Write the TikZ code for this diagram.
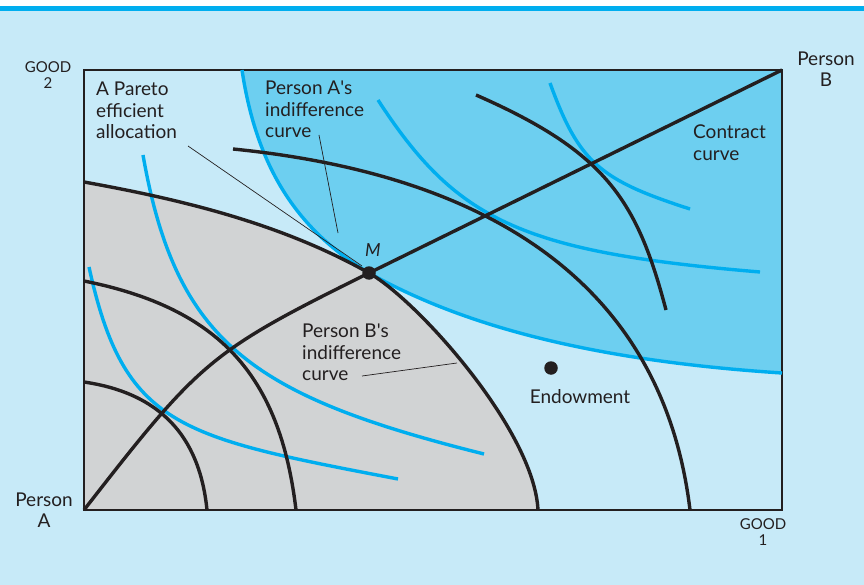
\documentclass[tikz,border=0pt]{standalone}
\usepackage{fontspec}
\setmainfont{Lato}
\definecolor{bgblue}{HTML}{C7EAF8}
\definecolor{regblue}{HTML}{6DCFF0}
\definecolor{cyanline}{HTML}{00AEEF}
\definecolor{grayreg}{HTML}{D1D3D4}
\definecolor{ink}{HTML}{231F20}
\tikzset{
  blackcurve/.style={draw=ink, line width=3.4pt},
  bluecurve/.style={draw=cyanline, line width=3.4pt},
  leader/.style={draw=ink, line width=0.7pt},
  boxline/.style={draw=ink, line width=2.7pt},
  lbl/.style={text=ink, font=\fontsize{19}{21.4}\selectfont, align=left, inner sep=0pt},
  axlbl/.style={text=ink, font=\fontsize{19}{21}\selectfont, align=center, inner sep=0pt},
  goodlbl/.style={text=ink, font=\fontsize{15}{16.5}\selectfont, align=center, inner sep=0pt},
  dotmark/.style={circle, fill=ink, inner sep=0pt, minimum size=13.5pt},
}
\begin{document}
\begin{tikzpicture}[x=1pt, y=-1pt]
\useasboundingbox (0,0) rectangle (864,585);
\fill[white] (0,0) rectangle (864,585);
\fill[bgblue] (0,11) rectangle (864,585);
\fill[cyanline] (0,6) rectangle (864,11);

\coordinate (O) at (84,510);
\coordinate (B) at (782,70);
\coordinate (TL) at (84,70);
\coordinate (BR) at (782,510);
\coordinate (M) at (369,273);
\coordinate (E) at (551,368);

% shaded regions
\fill[grayreg] (O) -- (84,182) .. controls (184,200) and (282,224) .. (M)
   .. controls (417,300) and (534,430) .. (538,510) -- cycle;
\fill[regblue] (242,70) .. controls (257,170) and (299,231) .. (M)
   .. controls (456,322) and (582,360) .. (782,373) -- (B) -- cycle;

% box
\draw[boxline] (TL) rectangle (BR);

% Person B's indifference curves (blue)
\draw[bluecurve] (242,70) .. controls (257,170) and (299,231) .. (M)
   .. controls (456,322) and (582,360) .. (782,373);
\draw[bluecurve] (378,100) .. controls (456,220) and (520,252) .. (760,272);
\draw[bluecurve] (550,83) .. controls (579,163) and (600,180) .. (690,209);
\draw[bluecurve] (143,155) .. controls (176,343) and (252,396) .. (484,454);
\draw[bluecurve] (89,267) .. controls (124,427) and (178,437) .. (398,479);

% Person A's indifference curves (black)
\draw[blackcurve] (84,382) .. controls (159,393) and (199.5,435) .. (207,510);
\draw[blackcurve] (84,281) .. controls (219,308) and (280,375) .. (296,510);
\draw[blackcurve] (84,182) .. controls (184,200) and (282,224) .. (M)
   .. controls (417,300) and (534,430) .. (538,510);
\draw[blackcurve] (233,149) .. controls (498,175.5) and (663.6,290) .. (690,510);
\draw[blackcurve] (476,95) .. controls (606,152) and (637,200) .. (666,310);

% contract curve
\draw[blackcurve] (O) .. controls (200,361) and (209,352) .. (M) -- (B);

% dots
\node[dotmark] (Mdot) at (M) {};
\node[dotmark] (Edot) at (E) {};

% labels
\node[text=ink, font=\fontsize{18}{20}\selectfont\itshape, inner sep=0pt] (Mlbl) at (373,250) {M};
\node[lbl, anchor=north] (Endow) at (580,389) {Endowment};
\node[lbl, anchor=north west] (Pareto) at (96,82) {A Pareto\\efficient\\allocation};
\node[lbl, anchor=north west] (Aind) at (265,81) {Person A\textquotesingle s\\indifference\\curve};
\node[lbl, anchor=north west] (Contract) at (693,125) {Contract\\curve};
\node[lbl, anchor=north west] (Bind) at (302,324) {Person B\textquotesingle s\\indifference\\curve};
\node[axlbl, anchor=north] (PA) at (44,493) {Person\\A};
\node[axlbl, anchor=north] (PB) at (826,52) {Person\\B};
\node[goodlbl, anchor=north] (G2) at (48,61) {GOOD\\2};
\node[goodlbl, anchor=north] (G1) at (763,518) {GOOD\\1};

% leader lines
\coordinate (pl1) at (188,146);
\coordinate (pl2) at (362,266);
\coordinate (al1) at (319,135);
\coordinate (al2) at (338,233);
\coordinate (bl1) at (362,376);
\coordinate (bl2) at (457,363);
\draw[leader] (pl1) -- (pl2);
\draw[leader] (al1) -- (al2);
\draw[leader] (bl1) -- (bl2);
\end{tikzpicture}
\end{document}
